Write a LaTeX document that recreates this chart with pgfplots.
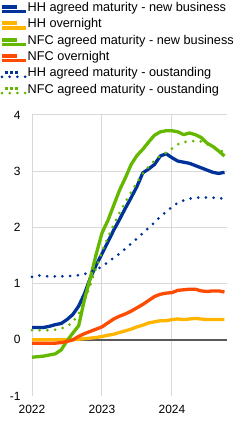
\documentclass[border=0pt]{standalone}
\usepackage{pgfplots}
\pgfplotsset{compat=1.18}
\usepackage{pgfplotstable}
\usepackage{fontspec}
\setmainfont{Liberation Sans}
\definecolor{ecbblue}{HTML}{003299}
\definecolor{ecbyellow}{HTML}{FFB400}
\definecolor{ecbgreen}{HTML}{65B800}
\definecolor{ecborange}{HTML}{FF4B00}
\definecolor{gridgray}{HTML}{D9D9D9}
\definecolor{zerogray}{HTML}{595959}

\pgfplotsset{
  solidleg/.style={legend image code/.code={\path (0bp,0bp) -- (24bp,0bp);\draw[##1, line width=4bp] (0bp,4.5bp) -- (15bp,4.5bp);}},
  dotleg/.style={legend image code/.code={\path (0bp,0bp) -- (24bp,0bp);\draw[##1, line width=3.5bp, line cap=butt, dash pattern=on 3bp off 2.3bp] (2.7bp,4.5bp) -- (16bp,4.5bp);}},
}

\pgfplotstableread{
m hhnb hhon nfcnb nfcon hhout nfcout
0 0.22 0.00 -0.31 -0.06 1.12 0.17
1 0.22 0.00 -0.30 -0.06 1.15 0.17
2 0.22 0.00 -0.29 -0.06 1.13 0.17
3 0.24 0.00 -0.27 -0.06 1.13 0.17
4 0.27 0.00 -0.25 -0.06 1.13 0.18
5 0.29 0.00 -0.18 -0.05 1.13 0.20
6 0.36 0.00 -0.02 -0.03 1.13 0.24
7 0.45 0.00 0.12 0.00 1.14 0.31
8 0.60 0.01 0.25 0.06 1.15 0.47
9 0.82 0.02 0.72 0.11 1.17 0.70
10 1.10 0.03 1.10 0.15 1.21 0.98
11 1.33 0.04 1.52 0.19 1.25 1.28
12 1.53 0.06 1.90 0.23 1.30 1.58
13 1.74 0.08 2.12 0.30 1.38 1.82
14 1.95 0.10 2.39 0.37 1.46 2.05
15 2.14 0.13 2.66 0.42 1.53 2.26
16 2.34 0.16 2.88 0.46 1.62 2.45
17 2.53 0.19 3.12 0.51 1.71 2.63
18 2.73 0.23 3.28 0.57 1.80 2.80
19 2.97 0.26 3.39 0.63 1.90 2.96
20 3.04 0.30 3.52 0.70 1.99 3.08
21 3.12 0.32 3.64 0.77 2.09 3.19
22 3.27 0.34 3.70 0.81 2.19 3.27
23 3.31 0.34 3.72 0.83 2.28 3.33
24 3.24 0.36 3.72 0.84 2.36 3.40
25 3.18 0.37 3.70 0.88 2.44 3.48
26 3.16 0.36 3.65 0.89 2.48 3.52
27 3.14 0.37 3.68 0.90 2.51 3.53
28 3.10 0.38 3.65 0.90 2.53 3.54
29 3.06 0.37 3.60 0.87 2.53 3.53
30 3.02 0.36 3.50 0.86 2.53 3.48
31 2.98 0.36 3.44 0.87 2.53 3.44
32 2.96 0.36 3.36 0.87 2.52 3.38
33 2.98 0.36 3.27 0.85 2.51 3.34
}\data

\begin{document}
\begin{tikzpicture}
\path[use as bounding box] (0,0) rectangle (248bp,423bp);
\begin{axis}[
  at={(32bp,27bp)}, anchor=south west,
  scale only axis, width=195bp, height=281bp,
  xmin=0, xmax=33.43, ymin=-1, ymax=4,
  xtick={0,12,24}, xticklabels={2022,2023,2024},
  ytick={-1,0,1,2,3,4},
  xmajorgrids,
  major grid style={draw=gridgray, line width=1bp},
  extra y ticks={1,2,3,4}, extra y tick labels={},
  extra y tick style={ymajorgrids=true, xmajorgrids=false},
  axis line style={draw=none},
  major tick length=0pt, tick style={draw=none},
  ticklabel style={font=\fontsize{12}{14}\selectfont},
  /pgf/number format/assume math mode=true,
  yticklabel style={anchor=east, inner sep=0pt, xshift=-11.3bp},
  xticklabel style={anchor=north, inner sep=0pt, yshift=-9bp},
  clip=false,
  legend style={at={(axis description cs:0,1)}, anchor=north west,
    xshift=-32bp, yshift=112.5bp, draw=none, fill=none,
    inner sep=0pt, outer sep=0pt, row sep=4.2bp,
    nodes={inner sep=0pt, text height=9.1bp, text depth=3bp,
      font=\fontsize{12.75}{15}\selectfont, anchor=base west}},
  every axis plot/.append style={line join=round},
]
\addplot[zerogray, line width=2bp, forget plot] coordinates {(0,0) (33.43,0)};
\addplot[ecbblue, line width=3.3bp, solidleg] table[x=m, y=hhnb] {\data};
\addlegendentry{HH agreed maturity - new business}
\addplot[ecbyellow, line width=3.3bp, solidleg] table[x=m, y=hhon] {\data};
\addlegendentry{HH overnight}
\addplot[ecbgreen, line width=3.3bp, solidleg] table[x=m, y=nfcnb] {\data};
\addlegendentry{NFC agreed maturity - new business}
\addplot[ecborange, line width=3.3bp, solidleg] table[x=m, y=nfcon] {\data};
\addlegendentry{NFC overnight}
\addplot[ecbblue, line width=3bp, line cap=round, dash pattern=on 0bp off 7.7bp, dotleg] table[x=m, y=hhout] {\data};
\addlegendentry{HH agreed maturity - oustanding}
\addplot[ecbgreen, line width=3bp, line cap=round, dash pattern=on 0bp off 7.7bp, dotleg] table[x=m, y=nfcout] {\data};
\addlegendentry{NFC agreed maturity - oustanding}
\end{axis}
\end{tikzpicture}
\end{document}
